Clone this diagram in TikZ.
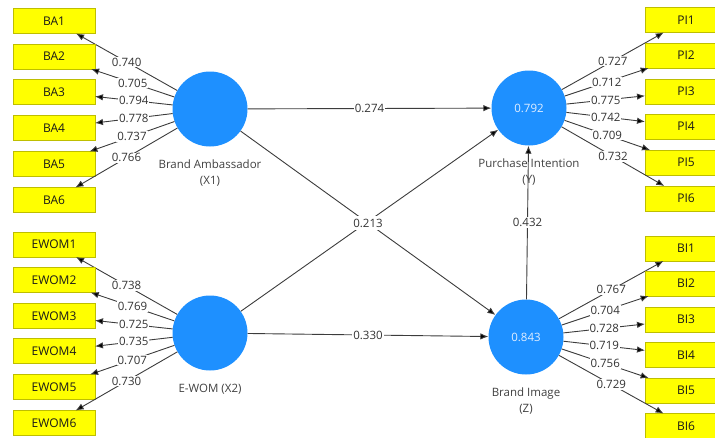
\documentclass[tikz,border=0pt]{standalone}
\usepackage{fontspec}
\setmainfont{Open Sans}
\usetikzlibrary{arrows.meta,positioning}
\definecolor{boxfill}{RGB}{255,255,0}
\definecolor{boxline}{RGB}{190,190,0}
\definecolor{lvblue}{RGB}{30,144,255}
\definecolor{lvtext}{RGB}{225,238,255}
\definecolor{pathgray}{RGB}{60,60,60}

\begin{document}
\begin{tikzpicture}[
	x=1pt, y=-1pt,
	indicator/.style={
		draw=boxline, fill=boxfill, minimum width=82pt, minimum height=25pt,
		inner sep=0pt, outer sep=0pt, text=black!90,
		font=\fontsize{12}{14}\selectfont
	},
	latent/.style={
		circle, fill=lvblue, minimum size=75pt, inner sep=0pt,
		text=lvtext, font=\fontsize{11.5}{13}\selectfont
	},
	caption/.style={
		align=center, inner sep=0pt, text=black!75,
		font=\fontsize{11.5}{16}\selectfont
	},
	coef/.style={
		fill=white, inner sep=1pt, text=black!80,
		font=\fontsize{11.5}{13}\selectfont
	},
	link/.style={
		->, draw=pathgray, line width=0.9pt
	},
	>={Latex[length=8pt,width=6.5pt,fill=black]}
]
\clip (0,0) rectangle (715,437);

% latent variables
\node[latent] (X1) at (210,109) {};
\node[latent] (X2) at (210,333) {};
\node[latent] (Y) at (529,108) {0.792};
\node[latent] (Z) at (526,337) {0.843};

% outer loadings
\foreach \i/\y/\l in {1/21/0.740, 2/56.5/0.705, 3/92/0.794,
		4/128/0.778, 5/164/0.737, 6/200/0.766} {
	\node[indicator] (BA\i) at (54,\y) {BA\i};
	\draw[link] (X1) -- node[coef] {\l} (BA\i);
}
\foreach \i/\y/\l in {1/244.5/0.738, 2/280/0.769, 3/316/0.725,
		4/351/0.735, 5/387/0.707, 6/423/0.730} {
	\node[indicator] (EWOM\i) at (54,\y) {EWOM\i};
	\draw[link] (X2) -- node[coef] {\l} (EWOM\i);
}
\foreach \i/\y/\l in {1/20/0.727, 2/55.5/0.712, 3/91.5/0.775,
		4/126.5/0.742, 5/162.5/0.709, 6/198.5/0.732} {
	\node[indicator] (PI\i) at (686,\y) {PI\i};
	\draw[link] (Y) -- node[coef] {\l} (PI\i);
}
\foreach \i/\y/\l in {1/248.5/0.767, 2/283.5/0.704, 3/319.5/0.728,
		4/355/0.719, 5/390.5/0.756, 6/426/0.729} {
	\node[indicator] (BI\i) at (686,\y) {BI\i};
	\draw[link] (Z) -- node[coef] {\l} (BI\i);
}

% path coefficients
\draw[link] (X1) -- node[coef] {0.274} (Y);
\draw[link] (X2) -- (Y);
\draw[link] (X1) -- node[coef, inner sep=3pt] {0.213} (Z);
\draw[link] (X2) -- node[coef] {0.330} (Z);
\draw[link] (Z) -- node[coef] {0.432} (Y);

% captions
\node[caption, below=13pt of X1] (X1cap) {Brand Ambassador\\(X1)};
\node[caption, below=13pt of X2] (X2cap) {E-WOM (X2)};
\node[caption, below=13pt of Y] (Ycap) {Purchase Intention\\(Y)};
\node[caption, below=13pt of Z] (Zcap) {Brand Image\\(Z)};
\end{tikzpicture}
\end{document}
